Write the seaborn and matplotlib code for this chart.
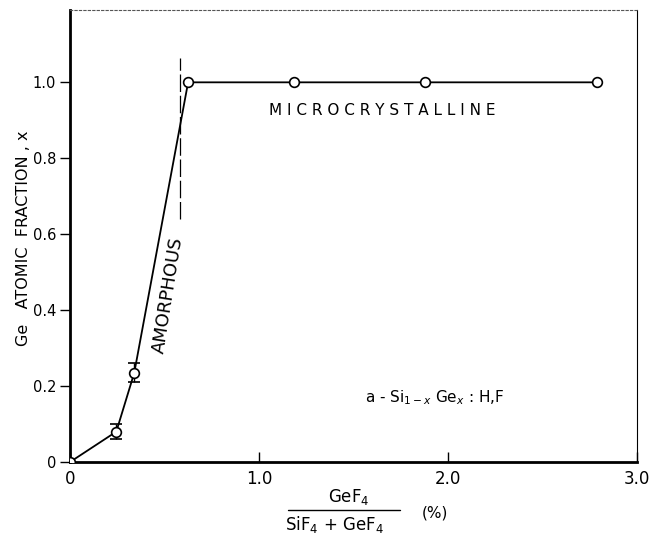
import matplotlib
matplotlib.use("Agg")
import matplotlib.pyplot as plt
import seaborn as sns
import pandas as pd

# data
gas_ratio = [0.0, 0.245, 0.34, 0.625, 1.185, 1.88, 2.79]
ge_fraction = [0.0, 0.08, 0.235, 1.0, 1.0, 1.0, 1.0]
err_x = [0.245, 0.34]
err_y = [0.08, 0.235]
err_size = [0.02, 0.025]
x_ticks = [0, 1.0, 2.0, 3.0]
x_ticklabels = ["0", "1.0", "2.0", "3.0"]
y_ticks = [0, 0.2, 0.4, 0.6, 0.8, 1.0]
y_ticklabels = ["0", "0.2", "0.4", "0.6", "0.8", "1.0"]
boundary_x = 0.58

sns.set_theme(style="white")
plt.rcParams['font.family'] = ['DejaVu Sans']
plt.rcParams['text.color'] = 'black'
plt.rcParams['axes.labelcolor'] = 'black'
plt.rcParams['xtick.color'] = 'black'
plt.rcParams['ytick.color'] = 'black'

fig = plt.figure(figsize=(6.63, 5.36), dpi=100)
ax = fig.add_axes([0.1056, 0.138, 0.855, 0.843])

df = pd.DataFrame({"r": gas_ratio, "x": ge_fraction})
sns.lineplot(data=df, x="r", y="x", ax=ax, color="black", linewidth=1.3,
             marker="o", markersize=7, markerfacecolor="white",
             markeredgecolor="black", markeredgewidth=1.2, zorder=3)
ax.errorbar(err_x, err_y, yerr=err_size, fmt="none", ecolor="black",
            elinewidth=1.0, capsize=4, capthick=1.2, zorder=2)

ax.plot([boundary_x, boundary_x], [0.64, 1.063], color="black",
        linewidth=0.9, linestyle=(0, (14, 3)))

ax.set_xlim(0, 3.0)
ax.set_ylim(0, 1.19)
ax.set_xticks(x_ticks)
ax.set_xticklabels(x_ticklabels)
ax.set_yticks(y_ticks)
ax.set_yticklabels(y_ticklabels)
ax.tick_params(axis="x", direction="in", length=7, width=1, labelsize=12, pad=6)
ax.tick_params(axis="y", direction="out", length=7, width=1, labelsize=10.5, pad=3)
ax.tick_params(left=True, bottom=True)

for side in ["left", "bottom"]:
    ax.spines[side].set_linewidth(2.0)
    ax.spines[side].set_color("black")
ax.spines["right"].set_linewidth(0.8)
ax.spines["right"].set_color("black")
ax.spines["top"].set_linewidth(0.8)
ax.spines["top"].set_color("#555555")
ax.spines["top"].set_linestyle((0, (2, 2)))

ax.set_xlabel("")
ax.set_ylabel("Ge   ATOMIC  FRACTION , x", fontsize=11.5)
ax.yaxis.set_label_coords(-0.068, 0.495)

ax.text(0.52, 0.44, "AMORPHOUS", rotation=81, fontsize=13,
        ha="center", va="center", rotation_mode="anchor")
ax.text(1.65, 0.925, "M I C R O C R Y S T A L L I N E", fontsize=11,
        ha="center", va="center")
ax.text(1.56, 0.17, r"a - Si$_{1-x}$ Ge$_x$ : H,F", fontsize=11,
        ha="left", va="center")

fig.text(0.526, 0.073, r"GeF$_4$", fontsize=12, ha="center", va="center")
fig.add_artist(plt.Line2D([0.434, 0.603], [0.049, 0.049], color="black", linewidth=1))
fig.text(0.505, 0.022, r"SiF$_4$ + GeF$_4$", fontsize=12, ha="center", va="center")
fig.text(0.656, 0.042, "(%)", fontsize=11, ha="center", va="center")

fig.savefig("out.png", dpi=100)
